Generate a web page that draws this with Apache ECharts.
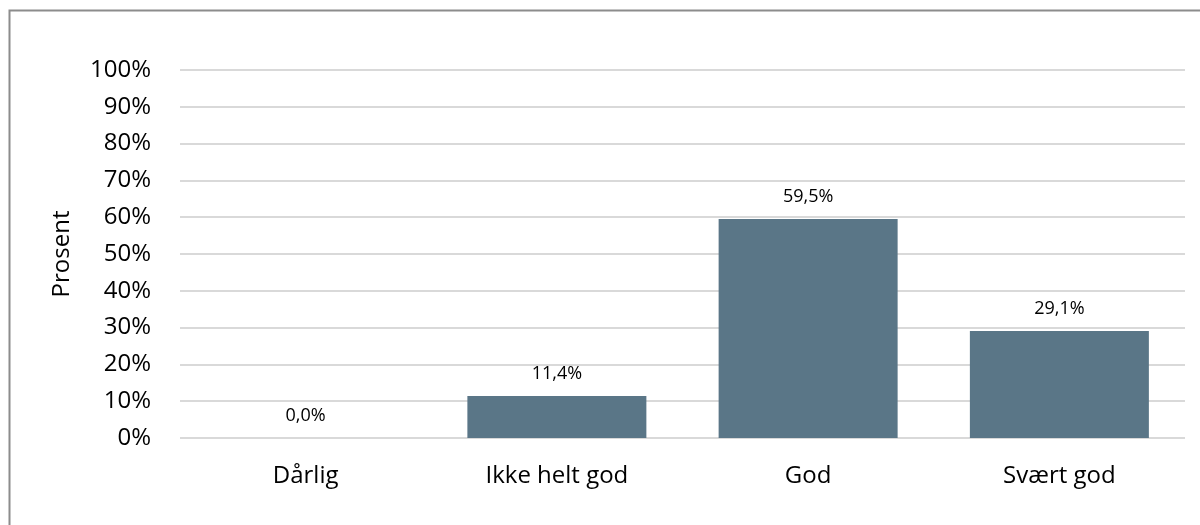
<!DOCTYPE html>
<html>
<head>
<meta charset="utf-8">
<script src="https://cdn.jsdelivr.net/npm/echarts@6/dist/echarts.min.js"></script>
<style>
  html, body { margin: 0; padding: 0; background: #fff; }
  #chart { width: 1200px; height: 525px; }
</style>
</head>
<body>
<div id="chart"></div>
<script>
var categories = ['Dårlig', 'Ikke helt god', 'God', 'Svært god']
var values = [0.0, 11.4, 59.5, 29.1]
var yTicks = [0, 10, 20, 30, 40, 50, 60, 70, 80, 90, 100]

var font = 'Open Sans'
var chart = echarts.init(document.getElementById('chart'))

var option = {
  animation: false,
  textStyle: { fontFamily: font },
  graphic: [
    {
      // chart frame (only left and top edges are in view)
      type: 'rect',
      shape: { x: 9.5, y: 10.5, width: 1300, height: 600 },
      style: { fill: 'none', stroke: '#8c8c8c', lineWidth: 2 }
    }
  ],
  grid: {
    left: 180,
    right: 15,
    top: 70,
    bottom: 87
  },
  xAxis: {
    type: 'category',
    data: categories,
    axisTick: { show: false },
    axisLine: { show: false },
    axisLabel: { fontSize: 24, color: '#000', margin: 26, fontFamily: font }
  },
  yAxis: {
    type: 'value',
    min: yTicks[0],
    max: yTicks[yTicks.length - 1],
    interval: 10,
    name: 'Prosent',
    nameLocation: 'middle',
    nameGap: 106,
    nameTextStyle: { fontSize: 24, color: '#000', fontFamily: font },
    axisLine: { show: false },
    axisTick: { show: false },
    axisLabel: {
      fontSize: 24,
      color: '#000',
      margin: 29,
      fontFamily: font,
      formatter: function (v) { return v + '%' }
    },
    splitLine: { lineStyle: { color: '#d9d9d9', width: 2 } }
  },
  series: [
    {
      type: 'bar',
      data: values,
      barWidth: 179,
      itemStyle: { color: '#5a7687' },
      label: {
        show: true,
        position: 'top',
        distance: 13,
        fontSize: 18,
        color: '#000',
        fontFamily: font,
        formatter: function (p) { return p.value.toFixed(1).replace('.', ',') + '%' }
      }
    }
  ]
}
chart.setOption(option)
</script>
</body>
</html>
